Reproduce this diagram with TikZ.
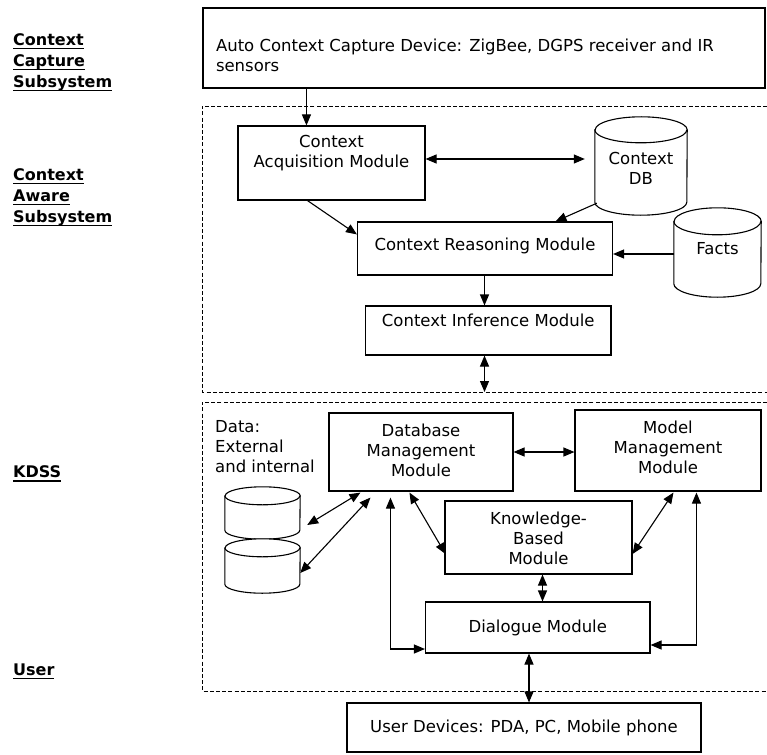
\documentclass[tikz,border=0pt]{standalone}
\usepackage{fontspec}
\setmainfont{DejaVu Sans}
\usetikzlibrary{arrows.meta,calc}

% underlined heading word with a fixed rule depth
\newsavebox\headbox
\newcommand\uword[1]{\sbox\headbox{#1}\rlap{\usebox\headbox}\rule[-4.2pt]{\wd\headbox}{1.6pt}}

% text block shifted vertically without changing its reported size
\newcommand\lifted[3]{\raisebox{#1}[\height][\depth]{\begin{tabular}{@{}#2@{}}#3\end{tabular}}}

% vertical cylinder drawn inside the rectangle of a named node: name, x radius, y radius
\newcommand\drawcyl[4][]{%
  \draw[cylline,#1] ($(#2.north west)+(0,#4)$) -- ($(#2.south west)+(0,-#4)$)
    arc[start angle=180,end angle=360,x radius=#3pt,y radius=#4pt]
    -- ($(#2.north east)+(0,#4)$)
    arc[start angle=0,end angle=180,x radius=#3pt,y radius=#4pt] -- cycle;
  \draw[cylline] ($(#2.north west)+(0,#4)$)
    arc[start angle=180,end angle=360,x radius=#3pt,y radius=#4pt];}

\begin{document}
\begin{tikzpicture}[x=1pt,y=-1pt,
  every node/.style={font=\fontsize{16.5}{20}\selectfont},
  box/.style={draw,line width=1.1pt,inner sep=0pt},
  area/.style={inner sep=0pt},
  cylline/.style={line width=1.1pt},
  frame/.style={line width=0.9pt,dash pattern=on 4pt off 2.2pt},
  heading/.style={font=\fontsize{16}{21}\selectfont\bfseries,inner sep=0pt,align=left,anchor=north west},
  tip/.tip={Triangle[length=11pt,width=9pt]},
  arr/.style={line width=1.1pt,-tip},
  darr/.style={line width=1.1pt,tip-tip}]
\useasboundingbox (0,0) rectangle (767,754);

% subsystem headings
\node[heading] (hcapture) at (13,33) {\uword{Context}\\\uword{Capture}\\\uword{Subsystem}};
\node[heading] (haware) at (13,168) {\uword{Context}\\\uword{Aware}\\\uword{Subsystem}};
\node[heading] (hkdss) at (13,465.3) {\uword{KDSS}};
\node[heading] (huser) at (13,663.3) {\uword{User}};

% dashed subsystem frames (open on the right)
\draw[frame] (767,106) -- (202,106) -- (202,392) -- (767,392);
\draw[frame] (767,402) -- (202,402) -- (202,691) -- (767,691);
\coordinate (awarebot) at (484.5,392);

% capture device
\node[box,minimum width=562,minimum height=80] (capture) at (484,48)
  {\makebox[536pt][l]{\lifted{-10pt}{l}{Auto Context Capture Device: ZigBee, DGPS receiver and IR\\sensors}}};

% context aware subsystem
\node[box,minimum width=187,minimum height=74] (acq) at (331.5,163)
  {\lifted{9pt}{c}{Context\\Acquisition Module}};
\node[area,minimum width=92,minimum height=98] (db) at (641,166) {};
\drawcyl{db}{46}{13}
\node[area] (dbtext) at (db.center) {\lifted{-4pt}{c}{Context\\DB}};
\node[box,minimum width=255,minimum height=53] (reason) at (485,248.5)
  {\lifted{2.5pt}{c}{Context Reasoning Module}};
\node[area,minimum width=87,minimum height=89] (facts) at (717.5,252.5) {};
\drawcyl{facts}{43.5}{13.5}
\node[area] (factstext) at (facts.center) {\lifted{2.5pt}{c}{Facts}};
\node[box,minimum width=245.5,minimum height=49] (infer) at (488.25,330.5)
  {\lifted{8pt}{c}{Context Inference Module}};

% KDSS
\node[area] (data) at (215,447) [anchor=west,align=left] {Data:\\External\\and internal};
\node[area,minimum width=75,minimum height=52] (cyla) at (262.5,513) {};
\node[area,minimum width=75,minimum height=54] (cylb) at (262.5,566) {};
\drawcyl[fill=white]{cyla}{37.5}{9}
\drawcyl[fill=white]{cylb}{37.5}{9}
\node[box,minimum width=184,minimum height=78] (dbm) at (421,452)
  {\lifted{0pt}{c}{Database\\Management\\Module}};
\node[box,minimum width=186,minimum height=81] (mmm) at (668,450.5)
  {\lifted{1.5pt}{c}{Model\\Management\\Module}};
\node[box,minimum width=187,minimum height=73] (kbm) at (538.5,537.5)
  {\lifted{-3pt}{c}{Knowledge-\\Based\\Module}};
\node[box,minimum width=224.5,minimum height=51] (dlg) at (537.75,627.5)
  {Dialogue Module};

% user devices
\node[box,minimum width=354,minimum height=49] (user) at (524,727.5)
  {User Devices: PDA, PC, Mobile phone};

% attachment points on box edges
\coordinate (reasonout) at ($(reason.south)+(-0.5,0)$);
\coordinate (kbmout) at ($(kbm.south)+(4,0)$);
\coordinate (dlgout) at ($(dlg.south)+(-8.75,0)$);

% connectors
\draw[arr] ($(capture.south west)+(104,0)$) -- ($(acq.north west)+(69,0)$);
\draw[darr] ($(acq.east)+(0,-4)$) -- ($(db.west)+(-10,-7)$);
\draw[arr] ($(acq.south west)+(70,0)$) -- ($(reason.north west)+(0,13)$);
\draw[arr] ($(db.south west)+(2,-12)$) -- ($(reason.north west)+(198.5,0)$);
\draw[arr] ($(facts.west)+(0,1.5)$) -- ($(reason.east)+(0,5.5)$);
\draw[arr] (reasonout) -- (reasonout |- infer.north);
\draw[darr] (infer.south -| awarebot) -- (awarebot);

\draw[darr] (dbm.east) -- (mmm.west |- dbm.east);
\draw[darr] ($(cyla.east)+(7,12)$) -- ($(dbm.south west)+(32,1)$);
\draw[darr] ($(cylb.east)+(0,7)$) -- ($(dbm.south west)+(42,6)$);
\draw[darr] ($(dlg.west)+(0,21.5)$) -| ($(dbm.south west)+(62,6)$);
\draw[darr] ($(dbm.south west)+(81,1)$) -- ($(kbm.west)+(1,16.5)$);
\draw[darr] ($(mmm.south west)+(99,1)$) -- ($(kbm.east)+(0,16.5)$);
\draw[darr] ($(dlg.east)+(0,17.5)$) -| ($(mmm.south west)+(122,1)$);
\draw[darr] (kbmout) -- (kbmout |- dlg.north);
\draw[darr] (dlgout) -- (dlgout |- user.north);
\end{tikzpicture}
\end{document}
